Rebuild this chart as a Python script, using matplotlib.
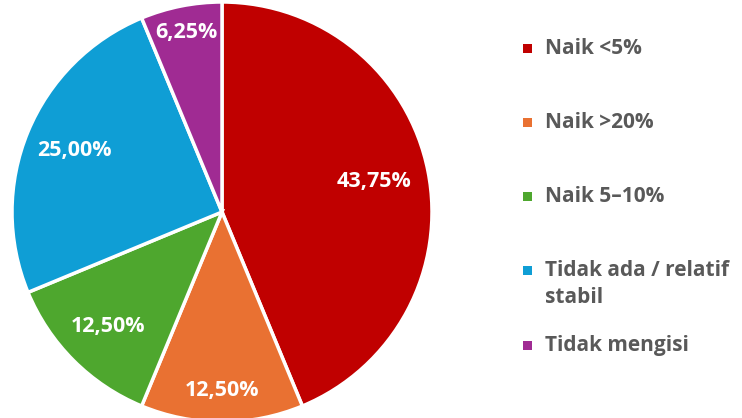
import numpy as np
import matplotlib.pyplot as plt
from matplotlib.patches import Rectangle

categories = ['Naik <5%', 'Naik >20%', 'Naik 5–10%', 'Tidak ada / relatif\nstabil', 'Tidak mengisi']
values = [43.75, 12.50, 12.50, 25.00, 6.25]
colors = ['#C00000', '#E97132', '#4EA72E', '#0F9ED5', '#A02B93']
label_dist = [0.74, 0.85, 0.77, 0.76, 0.87]

plt.rcParams['font.family'] = ['Open Sans', 'DejaVu Sans']

W, H = 742, 418
fig = plt.figure(figsize=(W / 100, H / 100), dpi=100)
cx, cy, r = 222, 212, 210
ax = fig.add_axes([(cx - r) / W, (H - cy - r) / H, 2 * r / W, 2 * r / H])

wedges, _ = ax.pie(values, colors=colors, startangle=90, counterclock=False,
                   wedgeprops=dict(edgecolor='white', linewidth=2.5))
ax.set_xlim(-1, 1)
ax.set_ylim(-1, 1)
ax.set_aspect('equal')
ax.axis('off')

for w, v, d in zip(wedges, values, label_dist):
    ang = np.deg2rad((w.theta1 + w.theta2) / 2)
    txt = f'{v:.2f}%'.replace('.', ',')
    ax.text(d * np.cos(ang), d * np.sin(ang), txt, ha='center', va='center',
            color='white', fontsize=15.5, fontweight='bold')

# legend drawn by hand (rows evenly spaced, wrapped label just runs down)
y0, step, line_h = 48, 74.3, 27
for i, (lab, c) in enumerate(zip(categories, colors)):
    y = y0 + i * step
    fig.add_artist(Rectangle(((523) / W, (H - y - 4.5) / H), 9 / W, 9 / H,
                             transform=fig.transFigure, facecolor=c, edgecolor='none'))
    for j, line in enumerate(lab.split('\n')):
        fig.text(545 / W, (H - y - j * line_h) / H, line, ha='left', va='center',
                 color='#595959', fontsize=15, fontweight='bold')

fig.savefig('out.png', dpi=100)
